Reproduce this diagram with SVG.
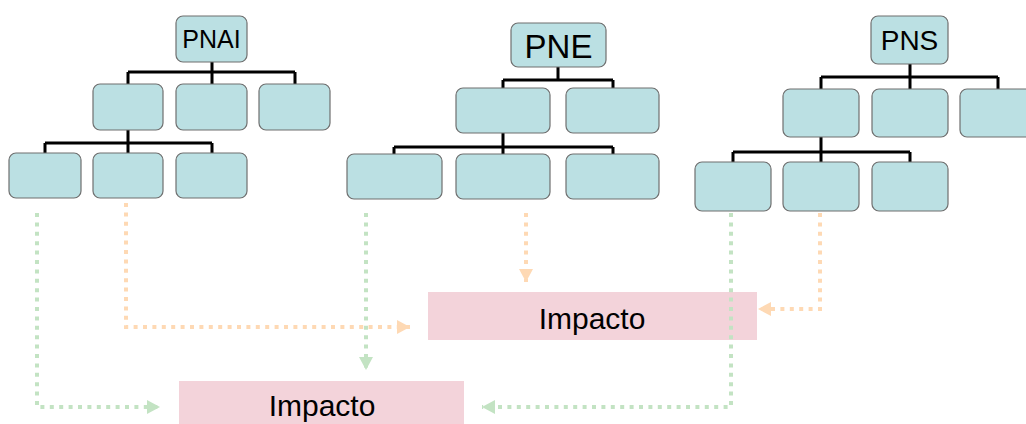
<svg xmlns="http://www.w3.org/2000/svg" width="1026" height="424" viewBox="0 0 1026 424">
<defs>
<style>
.b{fill:#bbe0e3;stroke:#6f6f6f;stroke-width:1.2}
.t{font-family:"Liberation Sans",Arial,sans-serif;fill:#000;text-anchor:middle}
.k{fill:none;stroke:#000;stroke-width:3}
.imp{fill:#f3d3da}
.g{fill:none;stroke:#c3e3c3;stroke-width:4;stroke-dasharray:4 5.4}
.o{fill:none;stroke:#fed9b4;stroke-width:4;stroke-dasharray:4 5.4}
</style>
<marker id="ag" markerWidth="13" markerHeight="14" refX="13" refY="7" orient="auto" markerUnits="userSpaceOnUse"><path d="M0,0 L13,7 L0,14 Z" fill="#c3e3c3"/></marker>
<marker id="ao" markerWidth="13" markerHeight="14" refX="13" refY="7" orient="auto" markerUnits="userSpaceOnUse"><path d="M0,0 L13,7 L0,14 Z" fill="#fed9b4"/></marker>
</defs>
<rect width="1026" height="424" fill="#fff"/>
<g id="tree-lines">
<path class="k" d="M212,62 V72 M128,72 H295 M128,72 V84 M212,72 V84 M295,72 V84"/>
<path class="k" d="M128,130 V143 M45,143 H212 M45,143 V153 M128,143 V153 M212,143 V153"/>
<path class="k" d="M558,67 V80 M503,80 H613 M503,80 V88 M613,80 V88"/>
<path class="k" d="M503,133 V147 M394,147 H613 M394,147 V154 M503,147 V154 M613,147 V154"/>
<path class="k" d="M910,64 V77 M821,77 H998 M821,77 V89 M910,77 V89 M998,77 V89"/>
<path class="k" d="M821,137 V152 M733,152 H910 M733,152 V162 M821,152 V162 M910,152 V162"/>
</g>
<g id="pnai">
<rect class="b" x="176" y="16" width="71" height="46" rx="7"/>
<text class="t" x="211.5" y="48" font-size="25">PNAI</text>
</g>
<g id="pnai-l2"><rect class="b" x="93" y="84" width="70" height="46" rx="7"/><rect class="b" x="176" y="84" width="71" height="46" rx="7"/><rect class="b" x="259" y="84" width="71" height="46" rx="7"/></g>
<g id="pnai-l3"><rect class="b" x="9" y="153" width="72" height="45" rx="7"/><rect class="b" x="93" y="153" width="70" height="45" rx="7"/><rect class="b" x="176" y="153" width="71" height="45" rx="7"/></g>
<g id="pne">
<rect class="b" x="511" y="23" width="95" height="44" rx="7"/>
<text class="t" x="558.5" y="58" font-size="33">PNE</text>
</g>
<g id="pne-l2"><rect class="b" x="456" y="88" width="94" height="45" rx="7"/><rect class="b" x="566" y="88" width="93" height="45" rx="7"/></g>
<g id="pne-l3"><rect class="b" x="347" y="154" width="95" height="45" rx="7"/><rect class="b" x="456" y="154" width="94" height="45" rx="7"/><rect class="b" x="566" y="154" width="93" height="45" rx="7"/></g>
<g id="pns">
<rect class="b" x="871" y="16" width="77" height="48" rx="7"/>
<text class="t" x="909.5" y="50" font-size="28">PNS</text>
</g>
<g id="pns-l2"><rect class="b" x="783" y="89" width="76" height="48" rx="7"/><rect class="b" x="872" y="89" width="76" height="48" rx="7"/><rect class="b" x="960" y="89" width="76" height="48" rx="7"/></g>
<g id="pns-l3"><rect class="b" x="695" y="162" width="76" height="49" rx="7"/><rect class="b" x="783" y="162" width="76" height="49" rx="7"/><rect class="b" x="872" y="162" width="76" height="49" rx="7"/></g>
<g id="impacto-top">
<rect class="imp" x="428" y="292" width="329" height="48"/>
<text class="t" x="592" y="329" font-size="30">Impacto</text>
</g>
<g id="impacto-bottom">
<rect class="imp" x="179" y="381" width="285" height="45"/>
<text class="t" x="322" y="416" font-size="30">Impacto</text>
</g>
<g id="connectors">
<path class="o" d="M126,203 V327 H410" marker-end="url(#ao)"/>
<path class="g" d="M37,213 V407 H160" marker-end="url(#ag)"/>
<path class="g" d="M366,213 V370" marker-end="url(#ag)"/>
<path class="o" d="M526,213 V282" marker-end="url(#ao)"/>
<path class="o" d="M820,213 V309 H758" marker-end="url(#ao)"/>
<path class="g" d="M731,213 V407 H482" marker-end="url(#ag)"/>
</g>
</svg>
